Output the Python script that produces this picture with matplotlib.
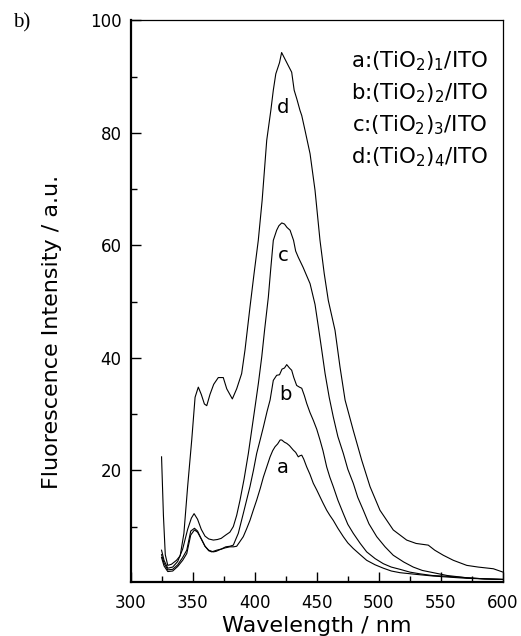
import matplotlib
matplotlib.use("Agg")
import matplotlib.pyplot as plt
from matplotlib.ticker import MultipleLocator, FixedLocator

plt.rcParams['font.family'] = ['DejaVu Sans']
plt.rcParams['mathtext.fontset'] = 'dejavusans'
plt.rcParams['mathtext.default'] = 'regular'

# ---- data ----
wl_d = [325, 326.5, 328, 330, 333, 337, 340, 343, 346, 349.3, 352, 354.6, 357, 359.5, 361.4, 364, 367, 370.7,
        374.7, 377.5, 380, 382, 385.5, 389.5, 392.2, 396.2, 399.5, 402.9, 406, 409.7, 413, 415, 417, 420,
        421.7, 424, 427, 429.8, 431.8, 434, 436.5, 437.9, 440.6, 444.6, 448.6, 452.6, 456, 459.3, 464.7,
        468.7, 472.8, 479.4, 486.2, 492.9, 500.9, 511.6, 522.4, 530, 539.8, 545, 551.9, 560, 570.8, 580,
        592.2, 600]
int_d = [22.4, 12, 5, 3.1, 3.3, 4, 4.8, 8.8, 17.1, 25.4, 33, 34.8, 33.5, 31.8, 31.5, 33.5, 35.3, 36.5,
         36.5, 34.5, 33.5, 32.7, 34.5, 37.2, 41.4, 49, 55, 60.9, 68, 78.7, 84, 87.6, 90.5, 92.5,
         94.3, 93.3, 92, 90.8, 87.6, 86, 84, 83.1, 80.4, 76.3, 69.8, 60.9, 55, 50.2, 44.9,
         38.4, 32.5, 27.1, 21.8, 17.1, 12.9, 9.4, 7.6, 7.0, 6.7, 5.8, 4.9, 4.0, 3.1, 2.8,
         2.5, 1.9]

wl_c = [325, 327, 330, 334, 338, 342, 346, 349, 351.2, 354, 357, 360, 363, 366.7, 370, 373, 376.7, 380,
        382.8, 385.5, 388.2, 391.5, 394.9, 397.5, 400.3, 403, 405.7, 408, 411, 413, 415, 417.7, 419.5,
        421.8, 424, 426, 428.5, 431.3, 433, 435.1, 439, 441.5, 444.6, 448.6, 451.3, 454, 456.7, 460,
        463.3, 467, 471.4, 475, 479.4, 483, 487.5, 492, 498.3, 505, 511.6, 520, 527.7, 535, 543.9, 555,
        570.8, 585, 600]
int_c = [5.8, 4, 2.6, 2.8, 3.8, 6, 9.5, 11.5, 12.3, 11.3, 9.5, 8.3, 7.8, 7.6, 7.7, 7.9, 8.5, 9,
         10, 12, 14.7, 18.5, 23, 27, 31.3, 35.5, 40.2, 45, 50.8, 56, 60.9, 62.7, 63.5,
         64, 63.8, 63.2, 62.7, 60.9, 59, 57.9, 56.1, 54.8, 53.2, 49.5, 45.5, 41.4, 37.2, 33,
         29.5, 26, 23, 20.2, 17.7, 15.2, 12.9, 10.5, 8.2, 6.4, 4.9, 3.7, 2.8, 2.2, 1.8, 1.3,
         0.9, 0.7, 0.6]

wl_b = [325, 327, 330, 334, 338, 342, 345.3, 348.5, 351.5, 354, 357, 360, 363, 365.4, 369.4, 373, 376.7,
        380, 382.8, 384.5, 386.8, 390.8, 393.5, 396.2, 399, 401.6, 404.5, 407, 410, 412.4, 415, 417.7,
        420, 422, 424, 425.8, 428, 429.8, 431.5, 433.8, 436, 437.9, 440, 441.9, 444.5, 447.2, 450,
        452.6, 455, 458, 460.5, 463.3, 467, 471.4, 475, 479.4, 485, 490.2, 497, 503.6, 510, 517, 525,
        533, 543, 552, 570.8, 585, 600]
int_b = [5, 3.5, 2.3, 2.4, 3.2, 4.5, 5.8, 9.2, 9.7, 9.2, 7.8, 6.5, 5.7, 5.5, 5.8, 6, 6.4,
         6.5, 6.7, 7.6, 8.8, 12.3, 14.7, 17.1, 20, 23, 25.5, 27.7, 30.5, 32.5, 36, 36.9,
         37, 38, 38.2, 38.8, 38.2, 37.8, 36.5, 35.1, 34.8, 34.6, 33.3, 31.9, 30.3, 28.9, 27.3,
         25.4, 23.5, 20.6, 18.8, 17.1, 14.7, 12.3, 10.4, 8.8, 7, 5.5, 4.3, 3.4, 2.8, 2.4, 1.9,
         1.6, 1.3, 1.2, 0.9, 0.7, 0.6]

wl_a = [325, 327, 330, 334, 338, 342, 345.3, 348.5, 351.5, 354, 357, 360, 363, 366.7, 369, 372, 376,
        380.1, 383, 385.5, 388, 390.8, 393.5, 396.2, 399, 401.6, 404.5, 407, 410, 412.4, 414.5, 416.4,
        418.5, 420.5, 421.8, 424, 425.8, 428, 431.1, 433, 435.1, 436.5, 437.9, 439.5, 441.9, 444.5,
        447.2, 450, 452.6, 455, 458, 460.5, 463.3, 467, 471.4, 475, 479.4, 485, 490.2, 497, 503.6, 510,
        517, 530, 543.9, 557, 570.8, 585, 600]
int_a = [4.5, 3, 2.0, 2.1, 2.9, 4, 5.2, 8.5, 9.4, 9, 7.8, 6.5, 5.8, 5.5, 5.6, 5.9, 6.2,
         6.4, 6.4, 6.5, 7.3, 8.2, 9.6, 11.1, 13, 14.7, 16.8, 18.8, 20.8, 22.4, 23.5, 24.2,
         24.7, 25.4, 25.4, 25, 24.8, 24.4, 23.6, 23.2, 22.4, 22.6, 22.7, 22, 20.6, 19.3,
         17.7, 16.5, 15.3, 14.2, 12.9, 12, 11.1, 9.7, 8.2, 7.1, 6.1, 5, 4.0, 3.2, 2.6, 2.1,
         1.8, 1.5, 1.2, 1.0, 0.8, 0.7, 0.6]

curve_labels = ['a', 'b', 'c', 'd']
label_pos_wl = [423, 425, 423, 423]
label_pos_int = [20.5, 33.5, 58.2, 84.5]
legend_lines = [r'a:(TiO$_2$)$_1$/ITO', r'b:(TiO$_2$)$_2$/ITO',
                r'c:(TiO$_2$)$_3$/ITO', r'd:(TiO$_2$)$_4$/ITO']
x_ticks = [300, 350, 400, 450, 500, 550, 600]
y_ticks = [20, 40, 60, 80, 100]

# ---- figure ----
fig = plt.figure(figsize=(5.21, 6.36), dpi=100)
ax = fig.add_axes([0.2505, 0.0854, 0.715, 0.8824])

for wl, iv in [(wl_a, int_a), (wl_b, int_b), (wl_c, int_c), (wl_d, int_d)]:
    ax.plot(wl, iv, color='black', lw=0.8)

for lab, x, y in zip(curve_labels, label_pos_wl, label_pos_int):
    ax.text(x, y, lab, fontsize=14, ha='center', va='center')

ax.set_xlim(300, 600)
ax.set_ylim(0.2, 100)
ax.set_xticks(x_ticks)
ax.xaxis.set_minor_locator(MultipleLocator(25))
ax.set_yticks(y_ticks)
ax.yaxis.set_minor_locator(FixedLocator([10, 30, 50, 70, 90]))
ax.tick_params(axis='both', which='major', direction='in', length=7, width=1.0,
               labelsize=12, top=False, right=False)
ax.tick_params(axis='both', which='minor', direction='in', length=4, width=1.0,
               top=False, right=False)
ax.tick_params(axis='x', which='major', pad=9)
ax.tick_params(axis='y', which='major', pad=6.5)

for s in ['left', 'bottom']:
    ax.spines[s].set_linewidth(1.6)
for s in ['top', 'right']:
    ax.spines[s].set_linewidth(0.9)

ax.set_xlabel('Wavelength / nm', fontsize=16)
ax.set_ylabel('Fluorescence Intensity / a.u.', fontsize=16)
ax.xaxis.set_label_coords(0.5, -0.062)
ax.yaxis.set_label_coords(-0.183, 0.445)

for i, t in enumerate(legend_lines):
    fig.text(488 / 521, 1 - (67.3 + i * 31.9) / 636, t, fontsize=15.3, ha='right', va='baseline')

fig.text(13 / 521, 1 - 23 / 636, 'b)', fontsize=15, family='Liberation Serif', ha='left', va='center')

fig.savefig('out.png', dpi=100)
